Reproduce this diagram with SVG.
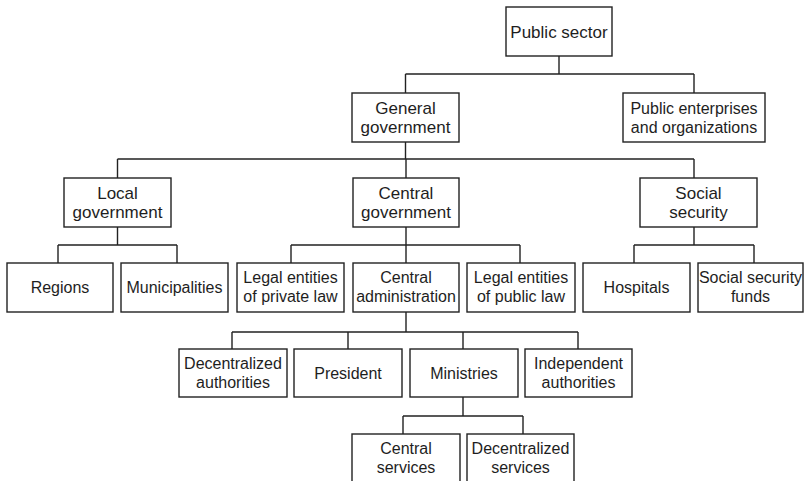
<svg xmlns="http://www.w3.org/2000/svg" width="806" height="481" viewBox="0 0 806 481">
<style>
.box{fill:#fff;stroke:#222;stroke-width:1.4}
.t{font-family:"Liberation Sans",Arial,sans-serif;font-size:16px;fill:#1e1e1e;text-anchor:middle}
.b{font-size:17px}
.c{fill:none;stroke:#222;stroke-width:1.4}
</style>
<rect width="806" height="481" fill="#fff"/>
<g id="connectors" class="c">
<path d="M559 56V74M405.5 74H694M405.5 74V93M694 74V93"/>
<path d="M405.5 142V159M117.5 159H694M117.5 159V178M406 159V178M694 159V178"/>
<path d="M117.5 227V245M58 245H177M58 245V263M177 245V263"/>
<path d="M406 227V245M291 245H520M291 245V263M406 245V263M520 245V263"/>
<path d="M694 227V245M634 245H754M634 245V263M754 245V263"/>
<path d="M406 312V332M232 332H578M232 332V349M348 332V349M463 332V349M578 332V349"/>
<path d="M463 397V416M403 416H523M403 416V434M523 416V434"/>
</g>
<g id="public-sector"><rect class="box" x="506" y="7" width="106" height="49"/><text class="t b" x="559" y="37.5">Public sector</text></g>
<g id="general-government"><rect class="box" x="352" y="93" width="107" height="49"/><text class="t b" x="405.5" y="113.5">General</text><text class="t b" x="405.5" y="132.5">government</text></g>
<g id="public-enterprises"><rect class="box" x="623" y="93" width="142" height="49"/><text class="t" x="694" y="113.5">Public enterprises</text><text class="t" x="694" y="132.5">and organizations</text></g>
<g id="local-government"><rect class="box" x="64" y="178" width="107" height="49"/><text class="t b" x="117.5" y="198.5">Local</text><text class="t b" x="117.5" y="217.5">government</text></g>
<g id="central-government"><rect class="box" x="353" y="178" width="106" height="49"/><text class="t b" x="406" y="198.5">Central</text><text class="t b" x="406" y="217.5">government</text></g>
<g id="social-security"><rect class="box" x="640" y="178" width="117" height="49"/><text class="t b" x="698.5" y="198.5">Social</text><text class="t b" x="698.5" y="217.5">security</text></g>
<g id="regions"><rect class="box" x="7" y="263" width="106" height="49"/><text class="t" x="60" y="293">Regions</text></g>
<g id="municipalities"><rect class="box" x="121" y="263" width="107" height="49"/><text class="t" x="174.5" y="293">Municipalities</text></g>
<g id="legal-private"><rect class="box" x="237" y="263" width="107" height="49"/><text class="t" x="290.5" y="282.5">Legal entities</text><text class="t" x="290.5" y="301.5">of private law</text></g>
<g id="central-administration"><rect class="box" x="353" y="263" width="106" height="49"/><text class="t" x="406" y="282.5">Central</text><text class="t" x="406" y="301.5">administration</text></g>
<g id="legal-public"><rect class="box" x="467" y="263" width="108" height="49"/><text class="t" x="521" y="282.5">Legal entities</text><text class="t" x="521" y="301.5">of public law</text></g>
<g id="hospitals"><rect class="box" x="583" y="263" width="107" height="49"/><text class="t" x="636.5" y="293">Hospitals</text></g>
<g id="social-security-funds"><rect class="box" x="698" y="263" width="105" height="49"/><text class="t" x="750.5" y="282.5">Social security</text><text class="t" x="750.5" y="301.5">funds</text></g>
<g id="decentralized-authorities"><rect class="box" x="179" y="349" width="108" height="48"/><text class="t" x="233" y="368.5">Decentralized</text><text class="t" x="233" y="387.5">authorities</text></g>
<g id="president"><rect class="box" x="294" y="349" width="108" height="48"/><text class="t" x="348" y="378.5">President</text></g>
<g id="ministries"><rect class="box" x="410" y="349" width="108" height="48"/><text class="t" x="464" y="378.5">Ministries</text></g>
<g id="independent-authorities"><rect class="box" x="525" y="349" width="107" height="48"/><text class="t" x="578.5" y="368.5">Independent</text><text class="t" x="578.5" y="387.5">authorities</text></g>
<g id="central-services"><rect class="box" x="352" y="434" width="108" height="49"/><text class="t" x="406" y="453.5">Central</text><text class="t" x="406" y="472.5">services</text></g>
<g id="decentralized-services"><rect class="box" x="467" y="434" width="107" height="49"/><text class="t" x="520.5" y="453.5">Decentralized</text><text class="t" x="520.5" y="472.5">services</text></g>
</svg>
